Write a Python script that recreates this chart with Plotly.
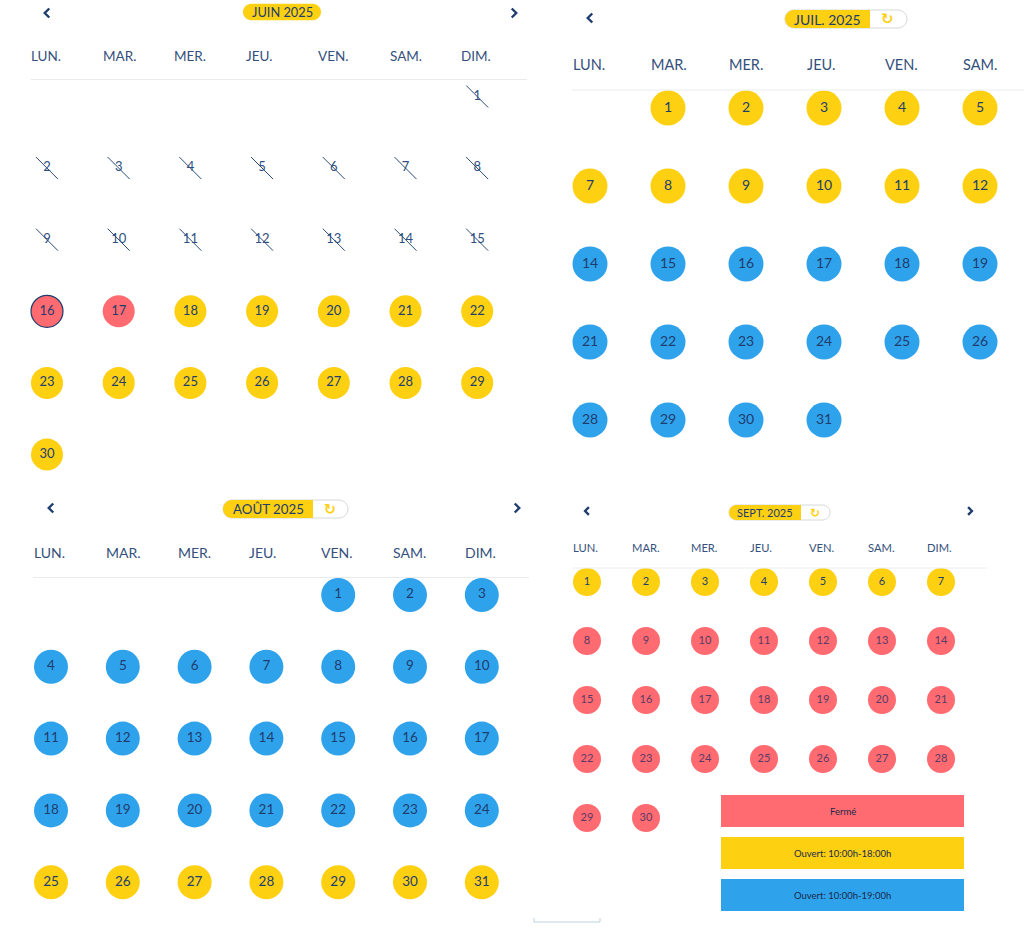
import plotly.graph_objects as go

# ---------- data ----------
WEEKDAYS = ["LUN.", "MAR.", "MER.", "JEU.", "VEN.", "SAM.", "DIM."]

MONTH_TITLES = ["JUIN 2025", "JUIL. 2025", "AOÛT 2025", "SEPT. 2025"]
FIRST_WEEKDAY = [6, 1, 4, 0]      # column of the 1st of each month
MONTH_LENGTHS = [30, 31, 31, 30]
VISIBLE_COLUMNS = [7, 6, 7, 7]    # the July panel is cropped before Sunday

JUNE_PAST = list(range(1, 16))
JUNE_CLOSED = [17]
JUNE_SHORT = list(range(18, 31))
JULY_SHORT = list(range(1, 14))
JULY_LONG = list(range(14, 32))
AUGUST_LONG = list(range(1, 25))
AUGUST_SHORT = list(range(25, 32))
SEPT_SHORT = [1, 2, 3, 4, 5, 6, 7]
SEPT_CLOSED = list(range(8, 31))
TODAY = [16]

LEGEND_LABELS = ["Fermé", "Ouvert: 10:00h-18:00h", "Ouvert: 10:00h-19:00h"]

# ---------- styles ----------
RED, YELLOW, BLUE = "#FF6B70", "#FDD012", "#2FA2EC"
NAVY = "#1F3D6D"
HEAD = "#34507C"
RULE = "#E9ECEF"
FONT = "Lato"
W, H = 1024, 930

PANELS = [
    dict(x0=47.0, dx=71.7, y0=96.5, dy=71.6, d=32, fs=13, hs=13.5, head=55.5, rule=(31, 527, 79.5),
         pill=(243, 321, None, 12, 16.5), tfs=12.8, prev=(47, 13), next=(514, 13)),
    dict(x0=590.0, dx=78.0, y0=108.0, dy=78.0, d=35, fs=14, hs=14.5, head=64.5, rule=(572, 1024, 90),
         pill=(785, 870, 907, 19, 18), tfs=14, prev=(590, 18), next=None),
    dict(x0=51.0, dx=71.8, y0=595.0, dy=71.8, d=34, fs=13.5, hs=14, head=552.5, rule=(33, 529, 577.5),
         pill=(223, 313, 348, 509, 18), tfs=13.3, prev=(51, 508), next=(517, 508)),
    dict(x0=587.0, dx=59.0, y0=582.0, dy=59.0, d=28, fs=11, hs=11.2, head=547.5, rule=(573, 987, 568),
         pill=(729, 801, 830, 512.5, 15), tfs=11, prev=(587, 511), next=(970, 511)),
]

fig = go.Figure()
layout = dict(width=W, height=H, margin=dict(l=0, r=0, t=0, b=0), paper_bgcolor="white",
              plot_bgcolor="rgba(0,0,0,0)", showlegend=False, hovermode=False,
              font=dict(family=FONT, color=NAVY))
shapes, annotations = [], []


def axis_name(i, letter):
    return letter + ("" if i == 0 else str(i + 1))


def day_traces(i, days, color, text_color=NAVY, line=None, symbol="circle", size=None):
    p = PANELS[i]
    first = FIRST_WEEKDAY[i]
    cols = [(first + d - 1) % 7 for d in days]
    rows = [(first + d - 1) // 7 for d in days]
    marker = dict(size=size or p["d"], color=color, symbol=symbol,
                  line=line or dict(width=0))
    fig.add_trace(go.Scatter(x=cols, y=rows, mode="markers+text",
                             text=[str(d) for d in days], textposition="middle center",
                             textfont=dict(family=FONT, size=p["fs"], color=text_color),
                             marker=marker, cliponaxis=False, hoverinfo="skip",
                             xaxis=axis_name(i, "x"), yaxis=axis_name(i, "y")))


# one scale per month: weekday column / week row mapped to the page
for i, p in enumerate(PANELS):
    common = dict(domain=[0, 1], visible=False, fixedrange=True)
    xk = "xaxis" + ("" if i == 0 else str(i + 1))
    yk = "yaxis" + ("" if i == 0 else str(i + 1))
    layout[xk] = dict(range=[(0 - p["x0"]) / p["dx"], (W - p["x0"]) / p["dx"]],
                      anchor=axis_name(i, "y"), **common)
    layout[yk] = dict(range=[(H - p["y0"]) / p["dy"], (0 - p["y0"]) / p["dy"]],
                      anchor=axis_name(i, "x"), **common)
# page-pixel axis for chrome
layout["xaxis5"] = dict(range=[0, W], domain=[0, 1], visible=False, fixedrange=True, anchor="y5")
layout["yaxis5"] = dict(range=[H, 0], domain=[0, 1], visible=False, fixedrange=True, anchor="x5")

# days
day_traces(0, JUNE_PAST, NAVY, text_color="#2F4F80", symbol="line-nw", size=22,
           line=dict(width=1, color="#2B4A78"))
day_traces(0, JUNE_CLOSED, RED, text_color=NAVY)
day_traces(0, TODAY, RED, text_color=NAVY, line=dict(width=1.2, color=NAVY))
day_traces(0, JUNE_SHORT, YELLOW)
day_traces(1, [d for d in JULY_SHORT if (FIRST_WEEKDAY[1] + d - 1) % 7 < VISIBLE_COLUMNS[1]], YELLOW)
day_traces(1, [d for d in JULY_LONG if (FIRST_WEEKDAY[1] + d - 1) % 7 < VISIBLE_COLUMNS[1]], BLUE)
day_traces(2, AUGUST_LONG, BLUE)
day_traces(2, AUGUST_SHORT, YELLOW)
day_traces(3, SEPT_SHORT, YELLOW)
day_traces(3, SEPT_CLOSED, RED, text_color="#5A3A66")

K = 0.5523


def pill_path(x0, x1, yc, h):
    r = h / 2
    c = r * K
    return (f"M {x0 + r},{yc - r} L {x1 - r},{yc - r} "
            f"C {x1 - r + c},{yc - r} {x1},{yc - c} {x1},{yc} "
            f"C {x1},{yc + c} {x1 - r + c},{yc + r} {x1 - r},{yc + r} "
            f"L {x0 + r},{yc + r} "
            f"C {x0 + r - c},{yc + r} {x0},{yc + c} {x0},{yc} "
            f"C {x0},{yc - c} {x0 + r - c},{yc - r} {x0 + r},{yc - r} Z")


def left_pill_path(x0, x1, yc, h):
    r = h / 2
    c = r * K
    return (f"M {x0 + r},{yc - r} L {x1},{yc - r} L {x1},{yc + r} L {x0 + r},{yc + r} "
            f"C {x0 + r - c},{yc + r} {x0},{yc + c} {x0},{yc} "
            f"C {x0},{yc - c} {x0 + r - c},{yc - r} {x0 + r},{yc - r} Z")


def chevron(xc, yc, direction, s):
    a = s * 0.5 * direction
    return f"M {xc - a},{yc - s} L {xc + a},{yc} L {xc - a},{yc + s}"


for i, p in enumerate(PANELS):
    xa, ya = axis_name(i, "x"), axis_name(i, "y")
    # weekday headers
    for c, name in enumerate(WEEKDAYS[:VISIBLE_COLUMNS[i]]):
        annotations.append(dict(x=c, y=(p["head"] - p["y0"]) / p["dy"], xref=xa, yref=ya, text=name,
                                showarrow=False, xanchor="left", xshift=-p["d"] / 2 - 2,
                                font=dict(family=FONT, size=p["hs"], color=HEAD)))
    # header rule
    rx0, rx1, ry = p["rule"]
    shapes.append(dict(type="line", xref="x5", yref="y5", x0=rx0, x1=rx1, y0=ry, y1=ry,
                       line=dict(color=RULE, width=1), layer="below"))
    # month pill
    px0, pmid, px1, pyc, ph = p["pill"]
    if px1 is None:
        shapes.append(dict(type="path", xref="x5", yref="y5", path=pill_path(px0, pmid, pyc, ph),
                           fillcolor=YELLOW, line=dict(width=0), layer="below"))
    else:
        shapes.append(dict(type="path", xref="x5", yref="y5", path=pill_path(px0, px1, pyc, ph),
                           fillcolor="white", line=dict(width=1, color="#D5D8DC"), layer="below"))
        shapes.append(dict(type="path", xref="x5", yref="y5", path=left_pill_path(px0, pmid, pyc, ph),
                           fillcolor=YELLOW, line=dict(width=0), layer="below"))
        annotations.append(dict(x=(pmid + px1) / 2 - 1, y=pyc, xref="x5", yref="y5", text="<b>↻</b>",
                                showarrow=False, font=dict(family="DejaVu Sans", size=p["tfs"] + 1,
                                                           color=YELLOW)))
    annotations.append(dict(x=(px0 + pmid) / 2, y=pyc, xref="x5", yref="y5", text=MONTH_TITLES[i],
                            showarrow=False, font=dict(family=FONT, size=p["tfs"], color=NAVY)))
    # nav chevrons
    size = 4.5 if i != 3 else 3.8
    if p["prev"]:
        shapes.append(dict(type="path", xref="x5", yref="y5", path=chevron(*p["prev"], -1, size),
                           line=dict(color=NAVY, width=2.4)))
    if p["next"]:
        shapes.append(dict(type="path", xref="x5", yref="y5", path=chevron(*p["next"], 1, size),
                           line=dict(color=NAVY, width=2.4)))

# legend boxes
for (label, color, y0) in zip(LEGEND_LABELS, [RED, YELLOW, BLUE], [795, 837, 879]):
    shapes.append(dict(type="rect", xref="x5", yref="y5", x0=721, x1=964, y0=y0, y1=y0 + 32,
                       fillcolor=color, line=dict(width=0), layer="below"))
    annotations.append(dict(x=842.5, y=y0 + 16, xref="x5", yref="y5", text=label, showarrow=False,
                            font=dict(family=FONT, size=9.5, color="#1A2A4A")))

# small bracket at the bottom edge
shapes.append(dict(type="path", xref="x5", yref="y5", path="M 534,918 L 534,922 L 600,922 L 600,918",
                   line=dict(color="#B9D3E0", width=1)))

# an empty trace so the page-pixel axes exist
fig.add_trace(go.Scatter(x=[], y=[], xaxis="x5", yaxis="y5"))

layout["shapes"] = shapes
layout["annotations"] = annotations
fig.update_layout(**layout)

fig.write_html("out.html", config=dict(displayModeBar=False),
               post_script="document.body.style.margin='0';document.body.style.overflow='hidden';")
